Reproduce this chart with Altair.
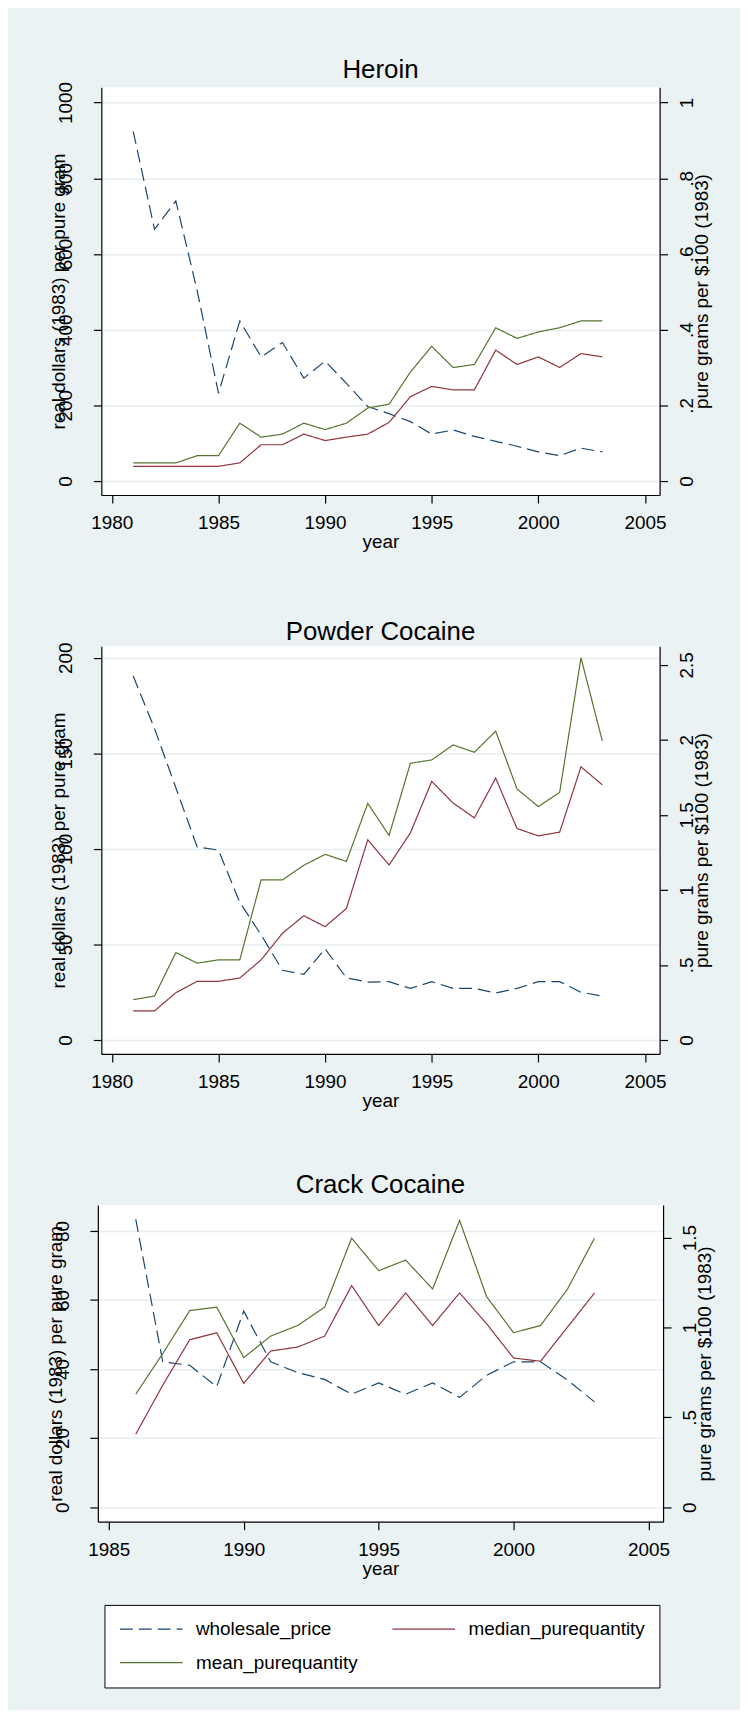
import altair as alt
import pandas as pd

# ---------------- data ----------------
heroin_years = list(range(1981, 2004))
heroin_price = [924, 665, 740, 503, 232, 423, 328, 366, 272, 317, 258, 197,
                178, 157, 124, 135, 118, 105, 92, 77, 67, 87, 77]
heroin_median = [0.039, 0.039, 0.039, 0.039, 0.039, 0.048, 0.096, 0.096, 0.124,
                 0.107, 0.116, 0.124, 0.155, 0.223, 0.250, 0.241, 0.241, 0.346,
                 0.308, 0.328, 0.300, 0.337, 0.328]
heroin_mean = [0.048, 0.048, 0.048, 0.067, 0.067, 0.153, 0.116, 0.124, 0.153,
               0.136, 0.153, 0.193, 0.203, 0.288, 0.356, 0.300, 0.308, 0.405,
               0.377, 0.394, 0.405, 0.423, 0.423]

powder_years = list(range(1981, 2004))
powder_price = [190.5, 163, 132, 101, 99.4, 72, 55, 36.5, 34.3, 47.7, 32.5, 30.3,
                30.5, 27, 30.5, 27, 27, 24.6, 27, 30.5, 30.5, 25, 23]
powder_median = [0.194, 0.194, 0.315, 0.391, 0.391, 0.413, 0.534, 0.711, 0.828,
                 0.755, 0.877, 1.334, 1.166, 1.380, 1.723, 1.579, 1.480, 1.745,
                 1.409, 1.360, 1.385, 1.820, 1.700]
powder_mean = [0.269, 0.293, 0.583, 0.512, 0.534, 0.534, 1.067, 1.067, 1.164,
               1.237, 1.190, 1.577, 1.363, 1.844, 1.866, 1.966, 1.917, 2.058,
               1.672, 1.555, 1.650, 2.547, 1.992]

crack_years = list(range(1986, 2004))
crack_price = [83.4, 42.1, 41.1, 34.9, 56.8, 42.1, 39, 37, 32.7, 36, 32.7, 36,
               31.8, 38.2, 42.1, 42.1, 36.8, 30.5]
crack_median = [0.406, 0.679, 0.932, 0.971, 0.689, 0.869, 0.891, 0.952, 1.233,
                1.011, 1.192, 1.011, 1.192, 1.021, 0.830, 0.812, 1.002, 1.192]
crack_mean = [0.629, 0.855, 1.094, 1.113, 0.832, 0.952, 1.011, 1.113, 1.497,
              1.316, 1.375, 1.214, 1.596, 1.172, 0.971, 1.011, 1.214, 1.497]

SERIES = ["wholesale_price", "median_purequantity", "mean_purequantity"]
COLORS = ["#1A476F", "#90353B", "#55752F"]
DASHES = [[13, 6], [1, 0], [1, 0]]

rows = []
for drug, yrs, p, med, mean in [
    ("heroin", heroin_years, heroin_price, heroin_median, heroin_mean),
    ("powder", powder_years, powder_price, powder_median, powder_mean),
    ("crack", crack_years, crack_price, crack_median, crack_mean),
]:
    for i, y in enumerate(yrs):
        rows.append({"drug": drug, "year": y, "series": SERIES[0], "value": p[i]})
        rows.append({"drug": drug, "year": y, "series": SERIES[1], "value": med[i]})
        rows.append({"drug": drug, "year": y, "series": SERIES[2], "value": mean[i]})
df = pd.DataFrame(rows)

FONT = "Liberation Sans"
GRID = "#E6EEF0"
BG = "#EAF2F3"

legend = alt.Legend(
    orient="none", legendX=7, legendY=1526, columns=2, direction="horizontal",
    title=None, strokeColor="#000000", fillColor="#FFFFFF", padding=14.5,
    symbolType="stroke", symbolSize=3969, symbolStrokeWidth=1.2,
    clipHeight=19, labelOffset=12.5,
    labelFontSize=19, labelFont=FONT, labelColor="#000000",
    columnPadding=33, rowPadding=14, labelLimit=400,
)

RIGHT_LABEL = ("datum.value > 0 && datum.value < 1 ? "
               "substring(format(datum.value, '~g'), 1) : format(datum.value, '~g')")


def panel(drug, title, xdom, xticks, width, height, ldom, lticks, rdom, rticks, dy):
    base = alt.Chart(df).transform_filter(alt.datum.drug == drug)
    x = alt.X("year:Q",
              scale=alt.Scale(domain=xdom, nice=False, zero=False),
              axis=alt.Axis(values=xticks, format="d", title="year", grid=False,
                            tickSize=8, labelPadding=26, labelBaseline="alphabetic",
                            labelFlush=False, labelOverlap=False,
                            titleBaseline="alphabetic", titleX=width / 2, titleY=53))
    color = alt.Color("series:N", scale=alt.Scale(domain=SERIES, range=COLORS),
                      legend=legend)
    dash = alt.StrokeDash("series:N", scale=alt.Scale(domain=SERIES, range=DASHES),
                          legend=legend)
    left = base.transform_filter(alt.datum.series == SERIES[0]).mark_line(
        strokeWidth=1.2).encode(
        x=x,
        y=alt.Y("value:Q",
                scale=alt.Scale(domain=ldom, nice=False, zero=False),
                axis=alt.Axis(orient="left", values=lticks, format="d",
                              title="real dollars (1983)  per pure gram",
                              grid=True, gridColor=GRID, gridWidth=1.5,
                              tickSize=8, labelAngle=270, labelAlign="center",
                              labelBaseline="alphabetic", labelPadding=22,
                              labelOverlap=False, labelFlush=False,
                              titleAngle=270, titleAlign="center",
                              titleBaseline="alphabetic", titleX=-37,
                              titleY=height / 2)),
        color=color, strokeDash=dash,
        order="year:Q",
    )
    right = base.transform_filter(alt.datum.series != SERIES[0]).mark_line(
        strokeWidth=1.2).encode(
        x=x,
        y=alt.Y("value:Q",
                scale=alt.Scale(domain=rdom, nice=False, zero=False),
                axis=alt.Axis(orient="right", values=rticks, labelExpr=RIGHT_LABEL,
                              title="pure grams per $100 (1983)", grid=False,
                              tickSize=8, labelAngle=270, labelAlign="center",
                              labelBaseline="alphabetic", labelPadding=25,
                              labelOverlap=False, labelFlush=False,
                              titleAngle=270, titleAlign="center",
                              titleBaseline="alphabetic", titleX=48,
                              titleY=height / 2)),
        color=color, strokeDash=dash,
        order="year:Q",
    )
    return alt.layer(left, right).resolve_scale(y="independent").properties(
        width=width, height=height,
        title=alt.TitleParams(title, dy=dy),
    )


heroin = panel("heroin", "Heroin", [1979.506, 2005.686], [1980, 1985, 1990, 1995, 2000, 2005],
               561.3, 410, [-36.8, 1040.5], [0, 200, 400, 600, 800, 1000],
               [-0.0368, 1.0405], [0, 0.2, 0.4, 0.6, 0.8, 1], 5.1)
powder = panel("powder", "Powder Cocaine", [1979.506, 2005.686],
               [1980, 1985, 1990, 1995, 2000, 2005],
               561.3, 410, [-7.29, 206.1], [0, 50, 100, 150, 200],
               [-0.0928, 2.624], [0, 0.5, 1, 1.5, 2, 2.5], 6.5)
crack = panel("crack", "Crack Cocaine", [1984.595, 2005.541], [1985, 1990, 1995, 2000, 2005],
              568.3, 318.3, [-4.21, 87.5], [0, 20, 40, 60, 80],
              [-0.0808, 1.681], [0, 0.5, 1, 1.5], -4)

chart = alt.vconcat(heroin, powder, crack, spacing=152, center=True, bounds="flush").resolve_scale(
    color="shared", strokeDash="shared"
).configure(
    background=BG, font=FONT,
    padding={"left": 38, "top": 44, "right": 25, "bottom": 17},
    autosize=alt.AutoSizeParams(type="pad"),
).configure_view(
    fill="white", strokeWidth=0,
).configure_axis(
    domainColor="#000000", tickColor="#000000", labelColor="#000000",
    titleColor="#000000", labelFontSize=19, titleFontSize=19,
    labelFont=FONT, titleFont=FONT, titleFontWeight="normal",
    domainWidth=1.2, tickWidth=1.2,
).configure_title(
    font=FONT, fontSize=26, fontWeight="normal", color="#000000",
    anchor="middle", frame="group", baseline="alphabetic", offset=3.5,
)

chart.save("out.html", embed_options={"renderer": "svg", "actions": False})
